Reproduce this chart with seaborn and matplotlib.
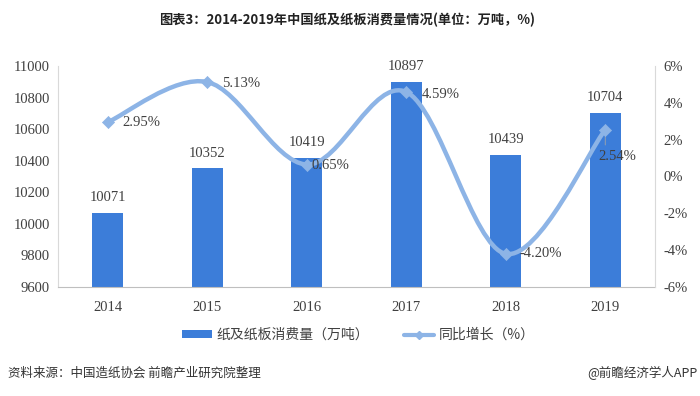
import matplotlib
matplotlib.use("Agg")
import matplotlib.pyplot as plt
from matplotlib.path import Path
from matplotlib.patches import PathPatch, Patch
from matplotlib.lines import Line2D
import seaborn as sns
import pandas as pd
import numpy as np

years = ["2014", "2015", "2016", "2017", "2018", "2019"]
consumption = [10071, 10352, 10419, 10897, 10439, 10704]
growth = [2.95, 5.13, 0.65, 4.59, -4.20, 2.54]
growth_labels = ["2.95%", "5.13%", "0.65%", "4.59%", "-4.20%", "2.54%"]
left_ticks = [9600, 9800, 10000, 10200, 10400, 10600, 10800, 11000]
right_ticks = [-6, -4, -2, 0, 2, 4, 6]

title = "图表3：2014-2019年中国纸及纸板消费量情况(单位：万吨，%)"
legend_bar = "纸及纸板消费量（万吨）"
legend_line = "同比增长（%）"
source = "资料来源：中国造纸协会 前瞻产业研究院整理"
brand = "@前瞻经济学人APP"

sns.set_theme(style="white")
plt.rcParams["font.family"] = ["Noto Sans CJK SC", "DejaVu Sans"]

BAR = "#3C7DD9"
LINE = "#8DB4E6"
TXT = "#404040"
SERIF = ["Liberation Serif", "DejaVu Serif"]
NUM = 10.5

fig = plt.figure(figsize=(7, 3.96), dpi=100)
ax = fig.add_axes([58/700, 1-287/396, (655-58)/700, (287-66)/396])

df = pd.DataFrame({"year": years, "val": consumption})
sns.barplot(data=df, x="year", y="val", color=BAR, width=0.31, ax=ax,
            saturation=1, edgecolor="none")
ax.set_ylim(9600, 11000)
ax.set_xlim(-0.5, 5.5)
ax.set_yticks(left_ticks)
ax.set_yticklabels([str(t) for t in left_ticks], family=SERIF, fontsize=NUM, color=TXT)
ax.set_xticks(range(len(years)))
ax.set_xticklabels(years, family=SERIF, fontsize=NUM, color=TXT)
ax.set_xlabel("")
ax.set_ylabel("")
ax.tick_params(axis="both", length=0)
ax.tick_params(axis="x", pad=10)
ax.tick_params(axis="y", pad=6)
for s in ["top", "right"]:
    ax.spines[s].set_visible(False)
ax.spines["left"].set_color("#D9D9D9")
ax.spines["bottom"].set_color("#BFBFBF")
ax.spines["left"].set_linewidth(0.8)
ax.spines["bottom"].set_linewidth(0.8)

for i, v in enumerate(consumption):
    ax.annotate(str(v), (i, v), xytext=(0, 11), textcoords="offset points",
                ha="center", va="center", family=SERIF, fontsize=NUM, color=TXT)

ax2 = ax.twinx()
ax2.set_ylim(-6, 6)
ax2.set_yticks(right_ticks)
ax2.set_yticklabels([f"{t}%" for t in right_ticks], family=SERIF, fontsize=NUM, color=TXT)
ax2.tick_params(axis="y", length=0, pad=6)
for s in ["top", "left", "bottom"]:
    ax2.spines[s].set_visible(False)
ax2.spines["right"].set_color("#D9D9D9")
ax2.spines["right"].set_linewidth(0.8)

# smooth line (Excel-like cardinal spline as Bezier segments)
xs = np.arange(len(growth), dtype=float)
ys = np.array(growth, dtype=float)
pts = np.column_stack([xs, ys])
verts = [tuple(pts[0])]
codes = [Path.MOVETO]
n = len(pts)
for i in range(n - 1):
    p0 = pts[max(i - 1, 0)]
    p1 = pts[i]
    p2 = pts[i + 1]
    p3 = pts[min(i + 2, n - 1)]
    c1 = p1 + (p2 - p0) / 6.0
    c2 = p2 - (p3 - p1) / 6.0
    verts += [tuple(c1), tuple(c2), tuple(p2)]
    codes += [Path.CURVE4] * 3
patch = PathPatch(Path(verts, codes), facecolor="none", edgecolor=LINE, lw=3.2,
                  capstyle="round", joinstyle="round", zorder=3)
ax2.add_patch(patch)
gdf = pd.DataFrame({"x": xs, "g": growth})
sns.scatterplot(data=gdf, x="x", y="g", marker="D", s=38, color=LINE,
                edgecolor=LINE, ax=ax2, zorder=4, legend=False)
ax2.set_xlabel("")
ax2.set_ylabel("")
ax2.set_xlim(-0.5, 5.5)

offsets = [(15, 0), (15, -1.5), (5, -1), (16, -3), (14, 0), (-7, -27)]
for i, (g, lab) in enumerate(zip(growth, growth_labels)):
    dx, dy = offsets[i]
    ax2.annotate(lab, (i, g), xytext=(dx * 0.72, dy * 0.72), textcoords="offset points",
                 ha="left", va="center", family=SERIF, fontsize=NUM, color=TXT, zorder=5)
# leader line for 2019 label
ax2.annotate("", (5, growth[5]), xytext=(0, -13), textcoords="offset points",
             arrowprops=dict(arrowstyle="-", color="#A6A6A6", lw=0.6))

fig.text(347/700, 1-20/396, title, ha="center", va="center", fontsize=9.5,
         fontweight="bold", color="#222222")

handles = [Patch(facecolor=BAR, edgecolor="none"),
           Line2D([0], [0], color=LINE, lw=3, marker="D", markersize=4)]
fig.legend(handles, [legend_bar, legend_line], loc="center", ncol=2,
           bbox_to_anchor=(358/700, 1-335/396), frameon=False, fontsize=10,
           handlelength=2.2, handleheight=0.45, columnspacing=2.5, handletextpad=0.3,
           labelcolor="#404040")

fig.text(8/700, 1-373/396, source, ha="left", va="center", fontsize=9, color="#333333")
fig.text(697/700, 1-373/396, brand, ha="right", va="center", fontsize=9, color="#333333")

fig.savefig("out.png", dpi=100)
